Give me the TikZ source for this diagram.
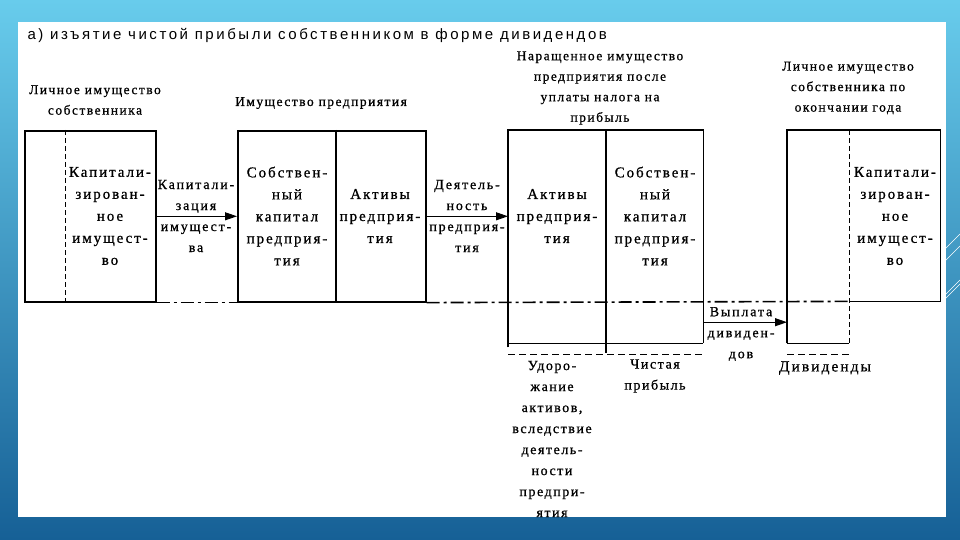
\documentclass[tikz,border=0pt]{standalone}
\usepackage{fontspec}
\setmainfont{Liberation Serif}
\newfontfamily\boxfont[LetterSpace=13,FakeBold=0.8]{Liberation Serif}
\newfontfamily\headfont[LetterSpace=11,FakeBold=0.8]{Liberation Serif}
\newfontfamily\titlefont[LetterSpace=17]{Liberation Sans}
\usetikzlibrary{arrows.meta,positioning}
\definecolor{skytop}{RGB}{104,204,236}
\definecolor{skymid}{RGB}{58,150,204}
\definecolor{skybot}{RGB}{22,96,150}

\begin{document}
\begin{tikzpicture}[x=1pt,y=-1pt,
    wall/.style={line width=1.6pt},
    box/.style={draw,wall,inner sep=0pt,anchor=north west},
    frame/.style={inner sep=0pt,anchor=north west},
    txt/.style={font=\boxfont\fontsize{15}{22}\selectfont,align=center,inner sep=0pt},
    head/.style={font=\headfont\fontsize{13.5}{20.5}\selectfont,align=center,inner sep=0pt},
    arr/.style={line width=1pt,-{Triangle[length=12pt,width=8pt]}},
    dashdot/.style={wall,dash pattern=on 13pt off 4pt on 3pt off 4pt},
    dashline/.style={line width=0.9pt,dash pattern=on 5pt off 3pt},
    dashrule/.style={line width=1.5pt,dash pattern=on 7pt off 4pt}]

  \useasboundingbox (0,0) rectangle (960,540);
  % slide
  \shade[top color=skytop,middle color=skymid,bottom color=skybot] (0,0) rectangle (960,540);
  \fill[white] (18,22) rectangle (946,517);
  \foreach \x/\y/\l in {928/266/32,934/272/26,938/302/22,944/300/16}
    \draw[white,line width=0.6pt] (\x,\y) -- ++(\l,-\l);

  \node[anchor=west,font=\titlefont\fontsize{15}{18}\selectfont] (title) at (24,35)
    {а) изъятие чистой прибыли собственником в форме дивидендов};

  % boxes
  \node[box,minimum width=131pt,minimum height=171pt] (own) at (24,130) {};
  \node[box,minimum width=188pt,minimum height=171pt] (comp) at (237,130) {};
  \node[frame,minimum width=195pt,minimum height=213pt] (grow) at (508,130) {};
  \node[frame,minimum width=62pt,minimum height=213pt] (finL) at (787,130) {};
  \node[frame,minimum width=91pt,minimum height=171pt] (finR) at (849,130) {};

  \draw[dashline] ([xshift=41pt]own.north west) -- ([xshift=41pt]own.south west);
  \draw[wall] ([xshift=99pt]comp.north west) -- ([xshift=99pt]comp.south west);

  \draw[wall] (grow.south west) -- (grow.north west) -- (grow.north east) -- (grow.south east);
  \draw[line width=2.6pt] ([yshift=-4pt]grow.south west) -- (grow.north west);
  \draw[thin] (grow.south west) -- (grow.south east);
  \draw[wall] ([xshift=98pt]grow.north west) -- ([xshift=98pt,yshift=-10pt]grow.south west);

  \draw[wall] (finL.south west) -- (finL.north west) -- (finR.north east)
    -- (finR.south east) -- (finR.south west);
  \draw[thin] (finL.south west) -- (finL.south east);
  \draw[dashline] (finL.north east) -- ([yshift=-2pt]finL.south east);

  \draw[dashdot] (own.south east) -- (comp.south west);
  \draw[dashdot] (comp.south east) -- (finR.south west);
  \draw[dashrule] ([yshift=-11pt]grow.south west) -- ([yshift=-11pt]grow.south east);
  \draw[dashrule] ([yshift=-11pt]finL.south west) -- ([yshift=-11pt]finL.south east);

  % arrows
  \draw[arr] (own) -- (comp);
  \draw[arr] (comp.east) -- (comp.east -| grow.west);
  \draw[arr] ([yshift=-85.5pt]grow.east) -- ([yshift=-85.5pt]grow.east -| finL.west);

  % headings
  \node[head] (ownHead) at (95,100) {Личное имущество\\собственника};
  \node[head] (compHead) at (321,103) {Имущество предприятия};
  \node[head] (growHead) at (600,88) {Наращенное имущество\\предприятия после\\уплаты налога на\\прибыль};
  \node[head] (finHead) at (848,88) {Личное имущество\\собственника по\\окончании года};

  % box texts
  \node[txt] (ownCap) at (110,216) {Капитали-\\зирован-\\ное\\имущест-\\во};
  \node[txt] (compEq) at (287,216) {Собствен-\\ный\\капитал\\предприя-\\тия};
  \node[txt] (compAct) at (380,216) {Активы\\предприя-\\тия};
  \node[txt] (growAct) at (557,216) {Активы\\предприя-\\тия};
  \node[txt] (growEq) at (655,216) {Собствен-\\ный\\капитал\\предприя-\\тия};
  \node[txt] (finCap) at (895,216) {Капитали-\\зирован-\\ное\\имущест-\\во};

  % arrow labels
  \node[txt,font=\boxfont\fontsize{14}{21}\selectfont] (capLbl) at (196,216) {Капитали-\\зация\\имущест-\\ва};
  \node[txt,font=\boxfont\fontsize{14}{21}\selectfont] (actLbl) at (467,216) {Деятель-\\ность\\предприя-\\тия};
  \node[txt,font=\boxfont\fontsize{14}{21}\selectfont] (payLbl) at (741,334) {Выплата\\дивиден-\\дов};

  % below
  \node[txt,font=\boxfont\fontsize{15.5}{20}\selectfont] (divLbl) at (825,368) {Дивиденды};
  \node[txt,font=\headfont\fontsize{14}{21}\selectfont] (riseLbl) at (552,439)
    {Удоро-\\жание\\активов,\\вследствие\\деятель-\\ности\\предпри-\\ятия};
  \node[txt,font=\headfont\fontsize{14}{21}\selectfont] (profLbl) at (655,376) {Чистая\\прибыль};
\end{tikzpicture}
\end{document}
